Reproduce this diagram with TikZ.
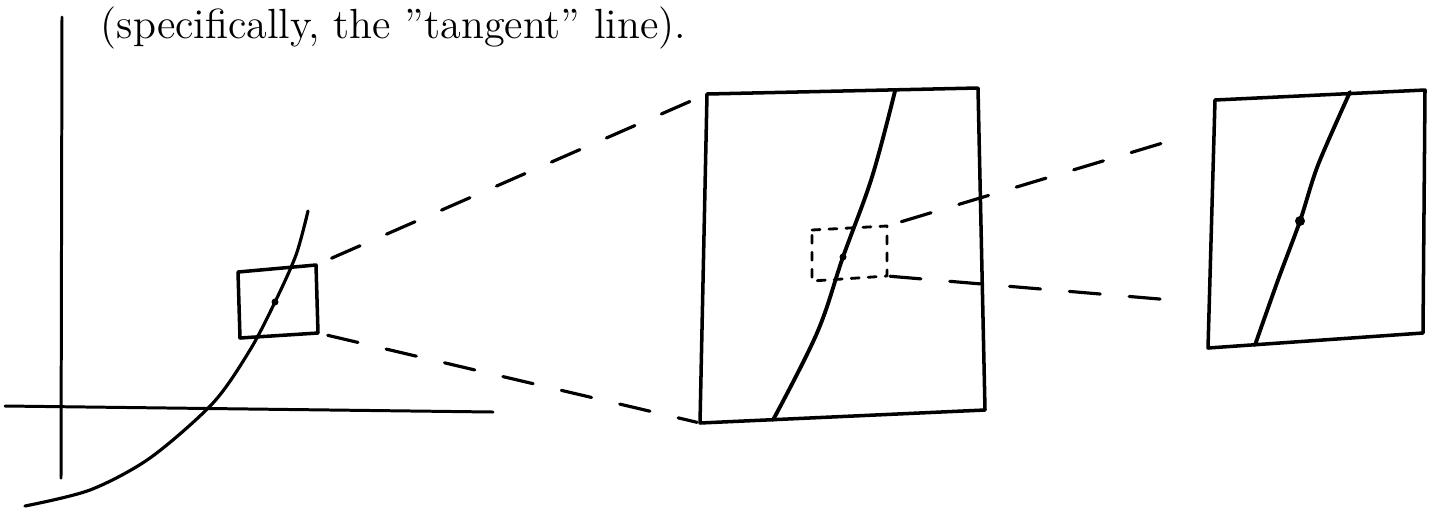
\documentclass[tikz,border=0pt]{standalone}
\usetikzlibrary{calc}
\begin{document}
\begin{tikzpicture}[
        x=0.1mm, y=-0.1mm,
        pen/.style={draw=black,line width=1pt,line cap=round,line join=round},
        axisline/.style={pen,line width=0.85pt},
        zoomline/.style={pen,line width=0.9pt,dash pattern=on 3.1mm off 2.9mm},
        zoombox/.style={pen,line width=0.8pt,dash pattern=on 0.8mm off 0.9mm},
        dot/.style={circle,fill=black,inner sep=0pt,minimum size=0.7mm},
    ]
    \useasboundingbox (0,0) rectangle (1439,510);
    \clip (0,0) rectangle (1439,510);

    %--- Caption ---%
    \node[anchor=base west,inner sep=0pt,font=\fontsize{12}{14}\selectfont] (caption) at (100,38)
        {(specifically, the "tangent" line).};

    %--- Axes ---%
    \coordinate (ytop) at (62,17);
    \coordinate (ybot) at (61,478);
    \coordinate (xleft) at (5,406);
    \coordinate (xright) at (493,412);
    \draw[axisline] (ytop) -- (ybot);
    \draw[axisline] (xleft) -- (xright);

    %--- Graph of the function ---%
    \draw[pen,line width=0.9pt] plot[smooth] coordinates
        {(25,506) (90,490) (150,458) (213,403) (250,350) (275,302) (296,255) (308,211)};

    %--- Small box around the point ---%
    \coordinate (s1) at (238,272);
    \coordinate (s2) at (316,265);
    \coordinate (s3) at (318,333);
    \coordinate (s4) at (240,338);
    \draw[pen] (s1) -- (s2) -- (s3) -- (s4) -- cycle;
    \node[dot] (p0) at (275,302) {};

    %--- First zoom ---%
    \coordinate (b1) at (707,94);
    \coordinate (b2) at (978,88);
    \coordinate (b3) at (985,410);
    \coordinate (b4) at (700,423);
    \draw[pen] (b1) -- (b2) -- (b3) -- (b4) -- cycle;
    \draw[pen,line width=1.1pt] plot[smooth,tension=0.6] coordinates
        {(895,91) (872,177) (843,257) (817,333) (773,420)};
    \node[dot] (p1) at (843,257) {};

    % dashed box inside the first zoom
    \coordinate (d1) at (812,230);
    \coordinate (d2) at (887,226);
    \coordinate (d3) at (887,276);
    \coordinate (d4) at (812,281);
    \draw[zoombox] (d1) -- (d2) -- (d3) -- (d4) -- cycle;

    %--- Second zoom ---%
    \coordinate (r1) at (1215,100);
    \coordinate (r2) at (1425,90);
    \coordinate (r3) at (1423,333);
    \coordinate (r4) at (1208,348);
    \draw[pen] (r1) -- (r2) -- (r3) -- (r4) -- cycle;
    \draw[pen,line width=1.1pt] plot[smooth] coordinates
        {(1350,92) (1318,165) (1300,221) (1278,280) (1255,345)};
    \node[dot,minimum size=1mm] (p2) at (1300,221) {};

    %--- Zoom connectors ---%
    \coordinate (u2) at (1186,136);
    \coordinate (l2) at (1183,301);
    \draw[zoomline,shorten <=1.7mm,shorten >=0.5mm] (s2) -- (b1);
    \draw[zoomline,shorten <=1.0mm,shorten >=0.3mm] (s3) -- (b4);
    \draw[zoomline,shorten <=1.5mm] (d2) -- (u2);
    \draw[zoomline,shorten <=0.3mm] (d3) -- (l2);

\end{tikzpicture}
\end{document}
